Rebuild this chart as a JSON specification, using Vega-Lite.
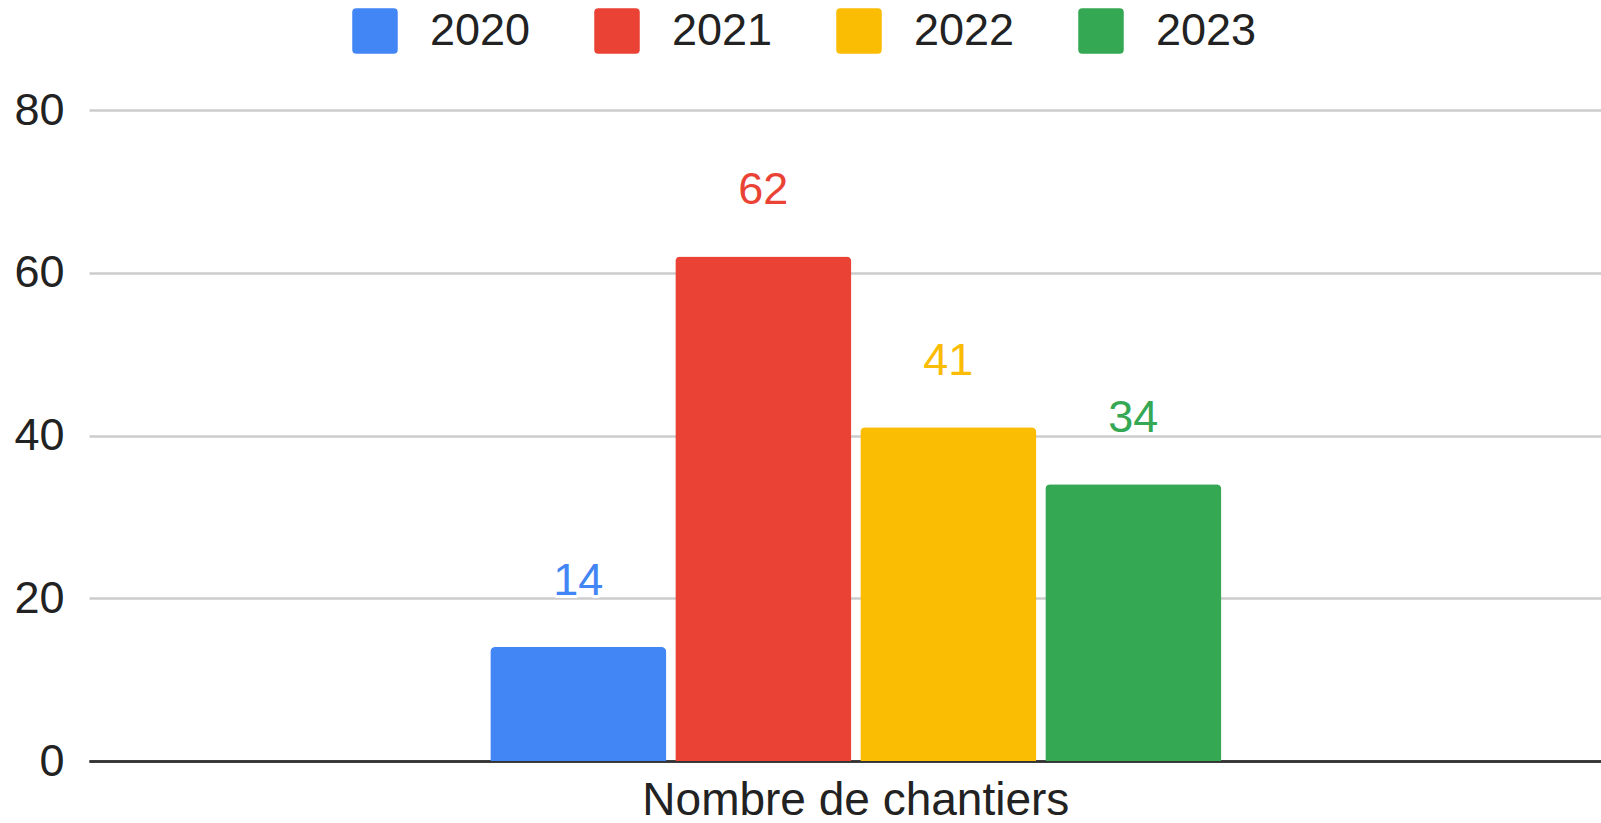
{
  "$schema": "https://vega.github.io/schema/vega-lite/v6.json",
  "width": 1512,
  "height": 651,
  "autosize": {"type": "none"},
  "padding": {"left": 89, "top": 110, "right": 0, "bottom": 62},
  "background": "white",
  "config": {
    "view": {"stroke": null},
    "font": "Liberation Sans",
    "axis": {"labelFont": "Liberation Sans", "titleFont": "Liberation Sans"},
    "legend": {"labelFont": "Liberation Sans"}
  },
  "data": {
    "values": [
      {"category": "Nombre de chantiers", "year": "2020", "value": 14},
      {"category": "Nombre de chantiers", "year": "2021", "value": 62},
      {"category": "Nombre de chantiers", "year": "2022", "value": 41},
      {"category": "Nombre de chantiers", "year": "2023", "value": 34}
    ]
  },
  "encoding": {
    "x": {
      "field": "category",
      "type": "nominal",
      "scale": {"paddingInner": 0, "paddingOuter": 0.5216, "align": 0.514},
      "axis": {
        "title": null,
        "labelAngle": 0,
        "labelFontSize": 46,
        "labelColor": "#222222",
        "labelPadding": 17,
        "labelLimit": 800,
        "ticks": false,
        "tickSize": 0,
        "domain": true,
        "domainColor": "#333333",
        "domainWidth": 2.5,
        "grid": false
      }
    },
    "xOffset": {
      "field": "year",
      "type": "nominal",
      "scale": {"paddingInner": 0.0486, "paddingOuter": 0.0243}
    },
    "y": {
      "field": "value",
      "type": "quantitative",
      "scale": {"domain": [0, 80], "nice": false},
      "axis": {
        "title": null,
        "values": [0, 20, 40, 60, 80],
        "labelFontSize": 45,
        "labelColor": "#222222",
        "labelPadding": 25,
        "ticks": false,
        "tickSize": 0,
        "domain": false,
        "gridColor": {"condition": {"test": "datum.value === 0", "value": "#333333"}, "value": "#cccccc"},
        "gridWidth": 2.5
      }
    },
    "color": {
      "field": "year",
      "type": "nominal",
      "scale": {
        "domain": ["2020", "2021", "2022", "2023"],
        "range": ["#4285F4", "#EA4335", "#FBBC04", "#34A853"]
      },
      "legend": {
        "title": null,
        "orient": "none",
        "direction": "horizontal",
        "legendX": 263,
        "legendY": -102,
        "symbolType": "M -0.82 -1 H 0.82 Q 1 -1 1 -0.82 V 0.82 Q 1 1 0.82 1 H -0.82 Q -1 1 -1 0.82 V -0.82 Q -1 -1 -0.82 -1 Z",
        "symbolSize": 2070,
        "symbolStrokeWidth": 0,
        "symbolOpacity": 1,
        "labelFontSize": 45,
        "labelColor": "#222222",
        "labelOffset": 32,
        "columnPadding": 63,
        "labelLimit": 300
      }
    }
  },
  "layer": [
    {
      "mark": {"type": "bar", "cornerRadiusTopLeft": 5, "cornerRadiusTopRight": 5}
    },
    {
      "mark": {"type": "text", "fontSize": 45, "baseline": "alphabetic", "dy": -52, "stroke": "white", "strokeWidth": 6, "strokeJoin": "round"},
      "encoding": {"text": {"field": "value", "type": "quantitative"}}
    },
    {
      "mark": {"type": "text", "fontSize": 45, "baseline": "alphabetic", "dy": -52},
      "encoding": {"text": {"field": "value", "type": "quantitative"}}
    }
  ]
}
